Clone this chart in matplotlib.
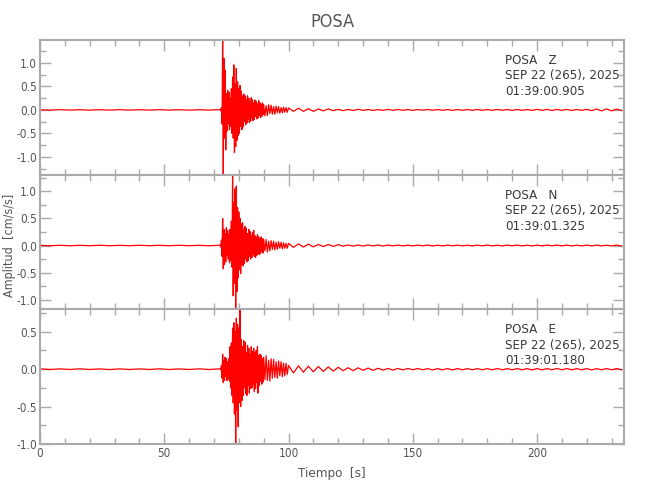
import numpy as np
import matplotlib
matplotlib.use("Agg")
import matplotlib.pyplot as plt
from matplotlib.ticker import MultipleLocator, FormatStrFormatter

plt.rcParams['font.family'] = ['DejaVu Sans']
plt.rcParams['font.stretch'] = 'condensed'

station = "POSA"
components = ["Z", "N", "E"]
date_label = "SEP 22 (265), 2025"
start_times = ["01:39:00.905", "01:39:01.325", "01:39:01.180"]

# sampling grids (seconds): quiet part, strong motion, late strong motion, coda
t_pre = np.arange(0, 73, 4.0)
t_fine = np.arange(72.5, 90, 0.25)
t_mid = np.arange(90, 100, 0.5)
t_coda = np.arange(100, 235, 2.0)

# amplitudes [cm/s/s]
z_pre = [0.004, -0.004, 0.005, -0.004, 0.004, -0.005, 0.004, -0.004, 0.005, -0.004,
         0.004, -0.004, 0.005, -0.004, 0.004, -0.005, 0.004, -0.004, 0.005]
z_fine = [0.01, -0.02, 0.05, -0.30, 1.49, -1.38, 1.10, -0.60, 0.85, -0.85,
          0.35, -0.45, 0.42, -0.30, 0.38, -0.42, 0.25, -0.35, 0.45, -0.50,
          0.70, -0.60, 0.96, -0.91, 0.55, -0.78, 0.88, -0.65, 0.60, -0.55,
          0.45, -0.50, 0.52, -0.35, 0.40, -0.42, 0.30, -0.36, 0.34, -0.25,
          0.30, -0.32, 0.22, -0.28, 0.30, -0.20, 0.25, -0.27, 0.18, -0.24,
          0.26, -0.17, 0.22, -0.23, 0.15, -0.20, 0.21, -0.14, 0.18, -0.19,
          0.13, -0.17, 0.20, -0.12, 0.15, -0.16, 0.11, -0.14, 0.15, -0.10]
z_mid = [0.12, -0.13, 0.09, -0.12, 0.11, -0.08, 0.10, -0.09, 0.07, -0.09,
         0.08, -0.06, 0.07, -0.07, 0.05, -0.06, 0.06, -0.05, 0.05, -0.05]
z_coda = [0.04, -0.03, 0.035, -0.03, 0.025, -0.03, 0.02, -0.02, 0.02, -0.015,
          0.012, -0.015, 0.01, -0.012, 0.012, -0.01, 0.01, -0.012, 0.008, -0.01,
          0.01, -0.008, 0.01, -0.008, 0.008, -0.01, 0.008, -0.006, 0.008, -0.008,
          0.008, -0.008, 0.008, -0.01, 0.008, -0.008, 0.008, -0.008, 0.01, -0.008,
          0.008, -0.008, 0.01, -0.008, 0.008, -0.01, 0.008, -0.008, 0.008, -0.01,
          0.012, -0.01, 0.012, -0.012, 0.01, -0.008, 0.01, -0.012, 0.01, -0.01,
          0.012, -0.015, 0.018, -0.02, 0.022, -0.02, 0.018, -0.012]

n_pre = [0.004, -0.004, 0.004, -0.005, 0.004, -0.004, 0.005, -0.004, 0.004, -0.004,
         0.005, -0.004, 0.004, -0.004, 0.005, -0.004, 0.004, -0.005, 0.004]
n_fine = [0.01, -0.03, 0.10, -0.20, 0.50, -0.43, 0.30, -0.35, 0.22, -0.30,
          0.33, -0.18, 0.28, -0.25, 0.20, -0.32, 0.30, -0.28, 0.45, -0.40,
          1.31, -0.93, 0.80, -0.70, 1.05, -1.18, 1.10, -0.85, 0.70, -0.60,
          0.62, -0.45, 0.50, -0.52, 0.40, -0.35, 0.42, -0.38, 0.30, -0.33,
          0.35, -0.25, 0.32, -0.30, 0.22, -0.28, 0.30, -0.20, 0.26, -0.25,
          0.18, -0.22, 0.24, -0.16, 0.28, -0.20, 0.18, -0.22, 0.15, -0.18,
          0.20, -0.14, 0.16, -0.17, 0.12, -0.15, 0.16, -0.11, 0.13, -0.14]
n_mid = [0.12, -0.10, 0.11, -0.12, 0.08, -0.10, 0.09, -0.07, 0.08, -0.08,
         0.06, -0.07, 0.07, -0.05, 0.06, -0.06, 0.05, -0.05, 0.04, -0.05]
n_coda = [0.04, -0.035, 0.03, -0.03, 0.025, -0.025, 0.02, -0.02, 0.018, -0.015,
          0.015, -0.012, 0.01, -0.012, 0.01, -0.01, 0.01, -0.008, 0.008, -0.01,
          0.008, -0.006, 0.008, -0.008, 0.006, -0.008, 0.008, -0.006, 0.008, -0.008,
          0.006, -0.008, 0.008, -0.006, 0.008, -0.008, 0.006, -0.008, 0.008, -0.006,
          0.008, -0.008, 0.006, -0.008, 0.008, -0.006, 0.008, -0.008, 0.006, -0.008,
          0.008, -0.008, 0.008, -0.006, 0.008, -0.008, 0.008, -0.008, 0.006, -0.008,
          0.008, -0.008, 0.008, -0.008, 0.006, -0.008, 0.008, -0.008]

e_pre = [0.004, -0.004, 0.004, -0.004, 0.005, -0.004, 0.004, -0.005, 0.004, -0.004,
         0.004, -0.004, 0.005, -0.004, 0.004, -0.004, 0.005, -0.004, 0.004]
e_fine = [0.005, -0.01, 0.05, -0.12, 0.20, -0.18, 0.12, -0.15, 0.16, -0.10,
          0.14, -0.15, 0.10, -0.13, 0.14, -0.16, 0.30, -0.25, 0.35, -0.35,
          0.55, -0.45, 0.62, -0.60, 0.50, -1.00, 0.68, -0.55, 0.60, -0.77,
          0.55, -0.45, 0.80, -0.50, 0.40, -0.42, 0.30, -0.35, 0.38, -0.25,
          0.36, -0.33, 0.22, -0.35, 0.32, -0.22, 0.28, -0.32, 0.20, -0.26,
          0.30, -0.25, 0.24, -0.20, 0.28, -0.30, 0.22, -0.26, 0.25, -0.18,
          0.30, -0.32, 0.18, -0.22, 0.20, -0.16, 0.18, -0.20, 0.14, -0.17]
e_mid = [0.16, -0.14, 0.18, -0.15, 0.12, -0.16, 0.14, -0.12, 0.13, -0.11,
         0.10, -0.12, 0.11, -0.09, 0.10, -0.10, 0.08, -0.09, 0.08, -0.07]
e_coda = [0.05, -0.05, 0.045, -0.04, 0.04, -0.035, 0.035, -0.03, 0.03, -0.025,
          0.025, -0.02, 0.02, -0.02, 0.018, -0.015, 0.015, -0.015, 0.012, -0.012,
          0.01, -0.012, 0.01, -0.01, 0.01, -0.008, 0.01, -0.008, 0.008, -0.01,
          0.008, -0.008, 0.008, -0.01, 0.008, -0.008, 0.008, -0.008, 0.008, -0.008,
          0.008, -0.008, 0.01, -0.008, 0.008, -0.008, 0.008, -0.008, 0.008, -0.01,
          0.008, -0.008, 0.008, -0.008, 0.01, -0.008, 0.008, -0.008, 0.008, -0.008,
          0.008, -0.01, 0.008, -0.008, 0.008, -0.008, 0.008, -0.008]

traces = [(z_pre, z_fine, z_mid, z_coda),
          (n_pre, n_fine, n_mid, n_coda),
          (e_pre, e_fine, e_mid, e_coda)]

frame_col = "#aaaaaa"
text_col = "#555555"

fig = plt.figure(figsize=(6.5, 5), dpi=100)
left, right = 40 / 650, 624 / 650
top, bottom = 1 - 40 / 500, 1 - 444 / 500
h = (top - bottom) / 3
h_px = 404 / 3

t = np.concatenate([t_pre, t_fine, t_mid, t_coda])
axes = []
for i, parts in enumerate(traces):
    ax = fig.add_axes([left, top - (i + 1) * h, right - left, h])
    y = np.concatenate(parts)
    ax.plot(t, y, color="red", lw=0.9)
    ax.set_xlim(0, 235)
    ax.set_ylim(y.min(), y.max())
    ax.xaxis.set_major_locator(MultipleLocator(50))
    ax.xaxis.set_minor_locator(MultipleLocator(10))
    ax.yaxis.set_major_locator(MultipleLocator(0.5))
    ax.yaxis.set_minor_locator(MultipleLocator(0.25))
    ax.yaxis.set_major_formatter(FormatStrFormatter("%.1f"))
    ax.tick_params(which="both", direction="in", top=True, right=True,
                   color=frame_col, labelcolor=text_col, labelsize=8.5, width=1,
                   pad=2)
    ax.tick_params(which="major", length=8)
    ax.tick_params(which="minor", length=4)
    for s in ax.spines.values():
        s.set_color(frame_col)
        s.set_linewidth(1.5)
    if i < 2:
        ax.tick_params(labelbottom=False)
    ax.text(0.797, 1 - 14 / h_px, f"{station}   {components[i]}\n{date_label}\n{start_times[i]}",
            transform=ax.transAxes, va="top", ha="left", fontsize=9.5,
            color="#3a3a3a", linespacing=1.25)
    axes.append(ax)

axes[-1].set_xlabel("Tiempo  [s]", color=text_col, fontsize=9.5, labelpad=5)
fig.text(10 / 650, 1 - 245 / 500, "Amplitud  [cm/s/s]", rotation=90,
         ha="center", va="center", color=text_col, fontsize=9)
fig.text(332 / 650, 1 - 22 / 500, station, ha="center", va="center",
         color=text_col, fontsize=13)

fig.savefig("out.png", dpi=100)
